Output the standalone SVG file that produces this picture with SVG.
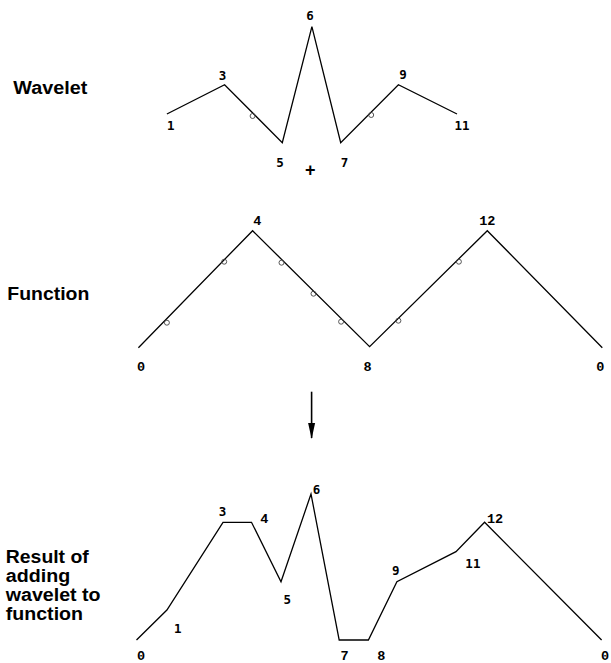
<svg xmlns="http://www.w3.org/2000/svg" width="611" height="663" viewBox="0 0 611 663">
  <style>
    .curve { fill: none; stroke: #000; stroke-width: 1.3; stroke-linejoin: miter; }
    .pt { fill: none; stroke: #444; stroke-width: 0.9; }
    .title { font-family: "Liberation Sans", Arial, sans-serif; font-weight: bold; font-size: 18px; fill: #000; }
    .ds { font-family: "DejaVu Sans Mono", monospace; font-weight: bold; font-size: 12.5px; fill: #000; text-anchor: middle; }
    .cm { font-family: "Liberation Mono", "Courier New", monospace; font-weight: bold; font-size: 13.5px; fill: #000; text-anchor: middle; }
  </style>
  <defs>
    <marker id="head" markerWidth="16" markerHeight="8" refX="15" refY="4" orient="auto" markerUnits="userSpaceOnUse" viewBox="0 0 16 8">
      <path d="M0,0.5 L16,4 L0,7.5 Z" fill="#000"/>
    </marker>
  </defs>

  <!-- wavelet panel -->
  <g id="wavelet">
    <text class="title" x="13.3" y="94" textLength="74" lengthAdjust="spacingAndGlyphs">Wavelet</text>
    <polyline class="curve" points="166.9,114 224.6,84.7 282.3,142.7 311.9,26.7 340.7,142.7 398.4,84.7 457,114"/>
    <circle class="pt" cx="252.6" cy="116" r="2.5"/>
    <circle class="pt" cx="371.2" cy="115" r="2.5"/>
    <text class="ds" x="310" y="20">6</text>
    <text class="ds" x="222.6" y="79.5">3</text>
    <text class="ds" x="403" y="78.5">9</text>
    <text class="ds" x="170.8" y="130">1</text>
    <text class="ds" x="462" y="130">11</text>
    <text class="ds" x="280" y="167">5</text>
    <text class="ds" x="344.6" y="167">7</text>
    <text class="title" x="310.3" y="175.6" text-anchor="middle" font-size="16">+</text>
  </g>

  <!-- function panel -->
  <g id="function">
    <text class="title" x="7.3" y="300" textLength="82" lengthAdjust="spacingAndGlyphs">Function</text>
    <polyline class="curve" points="138.4,347.7 252.6,230.7 369.6,346.7 487.3,230.7 602.3,347.7"/>
    <circle class="pt" cx="166.9" cy="322.7" r="2.5"/>
    <circle class="pt" cx="224.2" cy="261.7" r="2.5"/>
    <circle class="pt" cx="281.5" cy="262.7" r="2.5"/>
    <circle class="pt" cx="313.5" cy="293.7" r="2.5"/>
    <circle class="pt" cx="341.1" cy="321.7" r="2.5"/>
    <circle class="pt" cx="398.4" cy="320.7" r="2.5"/>
    <circle class="pt" cx="458.9" cy="261.7" r="2.5"/>
    <text class="cm" x="257.3" y="225">4</text>
    <text class="cm" x="487.3" y="225">12</text>
    <text class="cm" x="141.1" y="371">0</text>
    <text class="cm" x="367.6" y="371">8</text>
    <text class="cm" x="600.4" y="371">0</text>
  </g>

  <!-- sum panel -->
  <g id="result">
    <text class="title" x="5.8" y="563" textLength="83" lengthAdjust="spacingAndGlyphs">Result of</text>
    <text class="title" x="5.8" y="582" textLength="64.4" lengthAdjust="spacingAndGlyphs">adding</text>
    <text class="title" x="5.8" y="601" textLength="94.8" lengthAdjust="spacingAndGlyphs">wavelet to</text>
    <text class="title" x="5.8" y="620" textLength="77.2" lengthAdjust="spacingAndGlyphs">function</text>
    <polyline class="curve" points="136.5,640 166.9,610 223,522.3 251.5,522.3 281,581.7 311,494 339.2,640 368.4,640 396.9,581.7 456,551.7 484.6,522.3 601.6,640"/>
    <text class="ds" x="222.6" y="516">3</text>
    <text class="cm" x="264.3" y="522.5">4</text>
    <text class="ds" x="316.6" y="494">6</text>
    <text class="cm" x="495.1" y="522.5">12</text>
    <text class="ds" x="287.3" y="603.5">5</text>
    <text class="ds" x="395.7" y="574.5">9</text>
    <text class="ds" x="472.9" y="567.5">11</text>
    <text class="ds" x="177.8" y="632.5">1</text>
    <text class="cm" x="141.1" y="659.5">0</text>
    <text class="cm" x="344.6" y="659.5">7</text>
    <text class="cm" x="381.3" y="659.5">8</text>
    <text class="cm" x="605" y="659.5">0</text>
  </g>

  <!-- connectors -->
  <g id="connectors">
    <line x1="311.6" y1="391.7" x2="311.6" y2="438" stroke="#000" stroke-width="1.6" marker-end="url(#head)"/>
  </g>
</svg>
